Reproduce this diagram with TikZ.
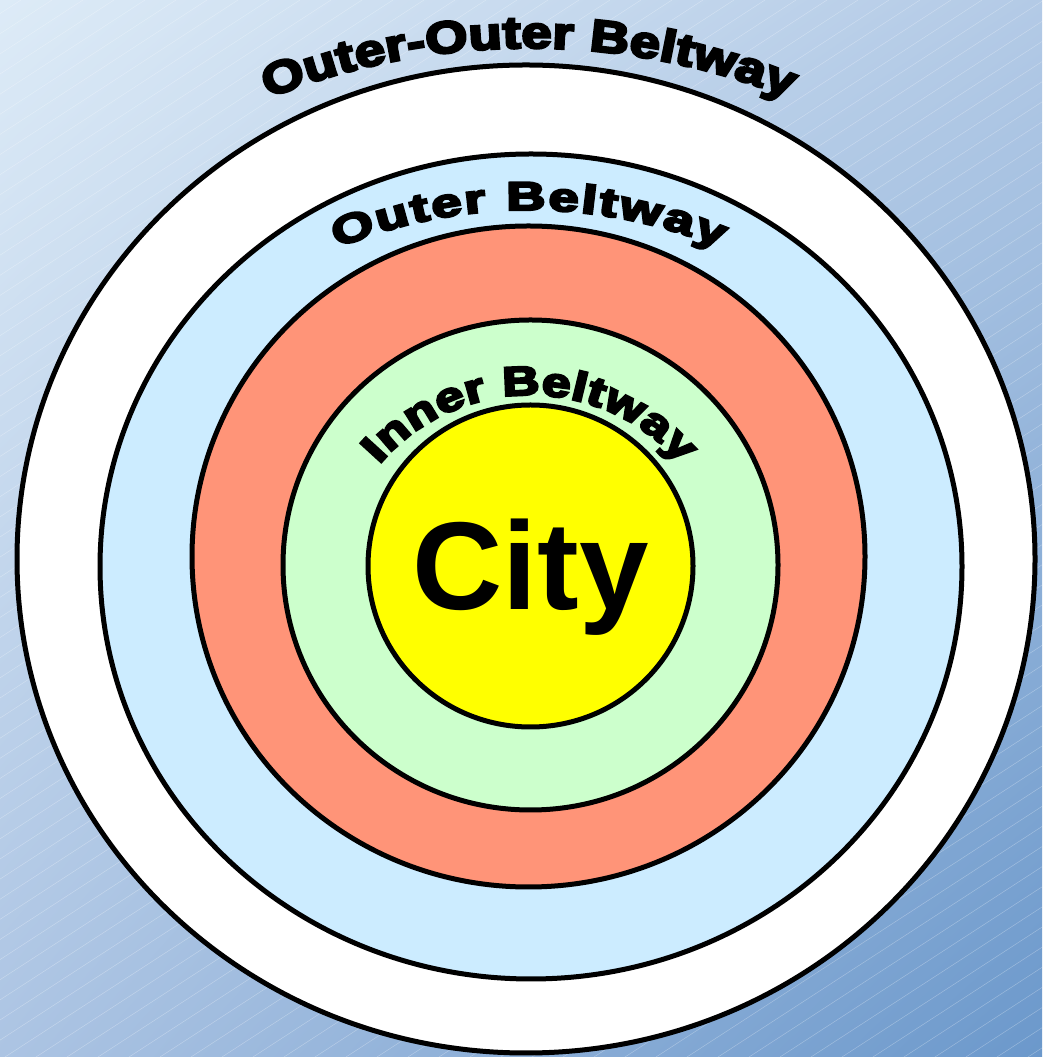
\documentclass[tikz,border=0pt]{standalone}
\usepackage{fontspec}
\usetikzlibrary{shapes.geometric,shadings}
\newfontfamily\artfont{Liberation Sans Bold}[FakeBold=5.5]
\newfontfamily\cityfont{Liberation Sans Bold}
\newcommand\ooFont{\artfont\fontsize{45}{52}\selectfont}
\newcommand\obFont{\artfont\fontsize{40}{46}\selectfont}
\newcommand\ibFont{\artfont\fontsize{41}{48}\selectfont}
\definecolor{bgTL}{HTML}{DDEBF7}
\definecolor{bgTR}{HTML}{B3CAE6}
\definecolor{bgBL}{HTML}{ACC4E3}
\definecolor{bgBR}{HTML}{6B98CB}
\definecolor{ringblue}{HTML}{CCECFF}
\definecolor{ringred}{HTML}{FF9478}
\definecolor{ringgreen}{HTML}{CCFFCC}
\definecolor{ringyellow}{HTML}{FFFF00}
\newbox\chbox
\newdimen\arcacc
% #1 prefix, #2 font, #3 xscale, #4 gap (pt), #5 characters
\newcommand\measurelabel[5]{%
  \global\arcacc=0pt\relax
  \foreach \ch [count=\i] in {#5}{%
    \setbox\chbox=\hbox{#2\scalebox{#3}[1]{\ch}}%
    \expandafter\xdef\csname arcM#1\i\endcsname{\the\dimexpr\arcacc+\wd\chbox/2\relax}%
    \global\advance\arcacc by \wd\chbox\relax
    \global\advance\arcacc by #4pt\relax
  }%
  \global\advance\arcacc by -#4pt\relax
  \expandafter\xdef\csname arcT#1\endcsname{\the\arcacc}%
}
% #1 prefix, #2 cx, #3 cy, #4 radius, #5 font, #6 xscale, #7 characters
\newcommand\placelabel[7]{%
  \edef\arcTT{\csname arcT#1\endcsname}%
  \foreach \ch [count=\i] in {#7}{%
    \edef\arcMM{\csname arcM#1\i\endcsname}%
    \pgfmathsetmacro\ang{90+(\arcTT/2-\arcMM)/#4*180/pi}%
    \pgfmathsetmacro\rot{\ang-90}%
    \pgfmathsetmacro\px{#2+#4*cos(\ang)}%
    \pgfmathsetmacro\py{#3+#4*sin(\ang)}%
    \node[anchor=base, inner sep=0pt, outer sep=0pt, rotate=\rot] (#1\i) at (\px,\py) {#5\scalebox{#6}[1]{\ch}};%
  }%
}
\begin{document}%
\measurelabel{oo}{\ooFont}{1.2}{0.5}{O,u,t,e,r,-,O,u,t,e,r,\ ,B,e,l,t,w,a,y}%
\measurelabel{ob}{\obFont}{1.35}{2.5}{O,u,t,e,r,\ ,B,e,l,t,w,a,y}%
\measurelabel{ib}{\ibFont}{1.25}{0.8}{I,n,n,e,r,\ ,B,e,l,t,w,a,y}%
\begin{tikzpicture}[x=1pt,y=1pt,
  ring/.style={ellipse, draw=black, line width=5pt, inner sep=0pt, outer sep=0pt},
  stripe/.style={white, opacity=0.3, line width=0.5pt}]
\useasboundingbox (0,0) rectangle (1042,1057);
\shade[upper left=bgTL, upper right=bgTR, lower left=bgBL, lower right=bgBR] (0,0) rectangle (1042,1057);
\begin{scope}
\clip (0,0) rectangle (1042,1057);
\foreach \c in {-1700,-1669,...,1042} \draw[stripe] (\c,0) -- ++(1628,1057);
\end{scope}
% rings
\node[ring, fill=white, minimum width=1018pt, minimum height=988pt] (oo) at (526,498) {};
\node[ring, fill=ringblue, minimum width=862pt, minimum height=825pt] (ob) at (531,490.5) {};
\node[ring, fill=ringred, minimum width=673pt, minimum height=661pt] (fw) at (528.5,500.5) {};
\node[ring, fill=ringgreen, minimum width=495pt, minimum height=490pt] (ib) at (530.5,492) {};
\node[ring, fill=ringyellow, minimum width=325pt, minimum height=322pt] (city) at (530.5,491) {};
\node[font=\cityfont\fontsize{125}{125}\selectfont, anchor=base, inner sep=0pt] (citylabel) at (530.5,447) {City};
% curved labels
\placelabel{oo}{529}{309}{700}{\ooFont}{1.2}{O,u,t,e,r,-,O,u,t,e,r,\ ,B,e,l,t,w,a,y}
\placelabel{ob}{529}{347}{500}{\obFont}{1.35}{O,u,t,e,r,\ ,B,e,l,t,w,a,y}
\placelabel{ib}{530}{464}{198}{\ibFont}{1.25}{I,n,n,e,r,\ ,B,e,l,t,w,a,y}
\end{tikzpicture}%
\end{document}
